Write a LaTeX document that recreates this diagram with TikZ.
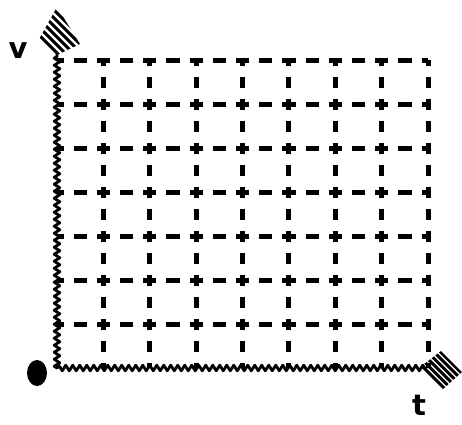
\documentclass[tikz,border=0pt]{standalone}
\usepackage{fontspec}
\setsansfont{DejaVu Sans}
\usepackage{tikz}
\usetikzlibrary{positioning,calc,decorations.pathmorphing}

\tikzset{
	gridline/.style={line width=5pt, line cap=butt},
	axisline/.style={line width=2.8pt, decorate,
		decoration={zigzag, segment length=7pt, amplitude=2.8pt}},
	hatch/.style={line width=3pt, line cap=butt},
	axislabel/.style={font=\sffamily\bfseries\fontsize{29}{29}\selectfont, inner sep=0pt},
}

\begin{document}
\begin{tikzpicture}[x=1pt, y=-1pt, line cap=round, line join=round]
		\useasboundingbox (0,0) rectangle (462,424);
		
		% origin, axis ends
		\coordinate (O) at (57,368);
		\coordinate (vend) at (57,54);
		\coordinate (tend) at (426,368);
		
		% grid
		\foreach \i in {1,...,8} {
			\draw[gridline, dash pattern=on 11pt off 11pt, dash phase=5.5pt]
				(57+46.375*\i,60) -- (57+46.375*\i,368);
		}
		\foreach \j in {0,...,6} {
			\draw[gridline, dash pattern=on 13.2pt off 10pt, dash phase=6.6pt]
				(57,60+44*\j) -- (428,60+44*\j);
		}
		
		% axes
		\draw[axisline] (O) -- (vend);
		\draw[axisline] (O) -- (tend);
		
		% hatched arrow heads
		\begin{scope}
			\clip (57,7) -- (80,44) -- (57,55) -- (38,41) -- cycle;
			\foreach \c in {4,12,20,28,36,44}
				\draw[hatch] (\c-10,-10) -- (\c+70,70);
		\end{scope}
		\begin{scope}
			\clip (441,351) -- (462,372) -- (442,390) -- (419,368) -- cycle;
			\foreach \c in {56,62.5,69,75.5,82,88.5}
				\draw[hatch] (\c+330,330) -- (\c+400,400);
		\end{scope}
		
		% origin dot and labels
		\fill (37,373) ellipse (10 and 13);
		\node[axislabel] (v) at (18,51) {v};
		\node[axislabel] (t) at (419,405) {t};
	\end{tikzpicture}
\end{document}
